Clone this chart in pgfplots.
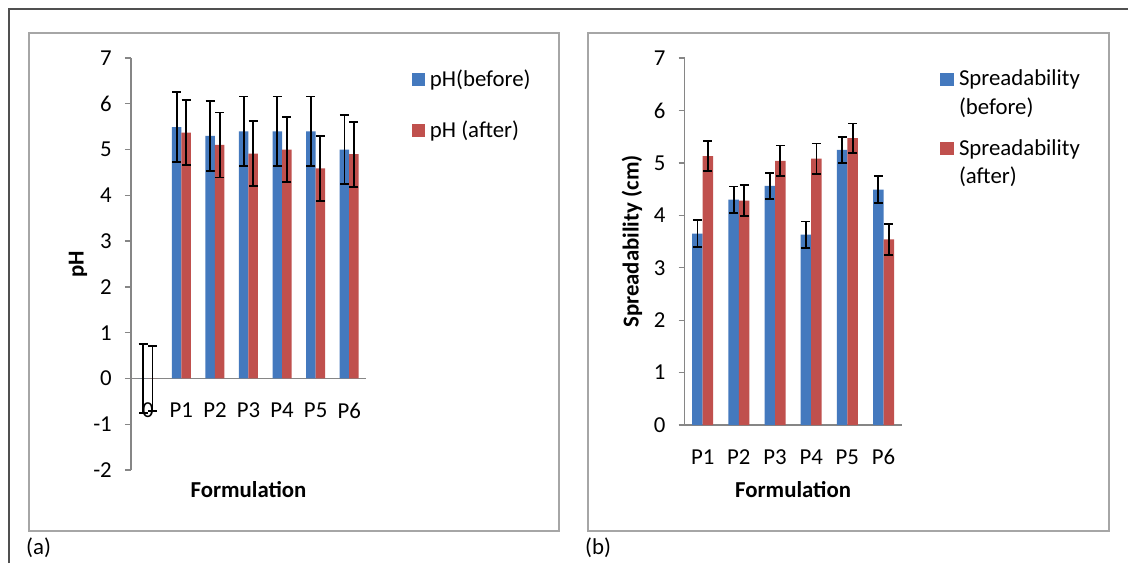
\documentclass[border=0pt]{standalone}
\usepackage{fontspec}
\setmainfont{Carlito}[BoldFont={Carlito Bold}]
\usepackage{pgfplots}
\usepackage{pgfplotstable}
\pgfplotsset{compat=1.18}

\definecolor{barblue}{HTML}{4479BE}
\definecolor{barred}{HTML}{C0504D}
\definecolor{axgray}{HTML}{868686}
\definecolor{boxgray}{HTML}{A6A6A6}
\definecolor{framegray}{HTML}{505050}
\newcommand{\chartfont}{\fontsize{22.8}{28.5}\selectfont}

\pgfplotstableread{
x  b     eb    a     ea
0  0     0.76  0     0.71
1  5.49  0.76  5.37  0.71
2  5.30  0.76  5.10  0.71
3  5.40  0.76  4.91  0.71
4  5.40  0.76  5.00  0.71
5  5.40  0.76  4.59  0.71
6  5.00  0.76  4.90  0.71
}\phdata

\pgfplotstableread{
x  b     eb    a     ea
0  3.65  0.26  5.13  0.29
1  4.30  0.25  4.28  0.30
2  4.56  0.25  5.04  0.29
3  3.63  0.25  5.08  0.29
4  5.25  0.25  5.47  0.28
5  4.49  0.26  3.54  0.29
}\spdata

\pgfplotsset{
  panel/.style={
    scale only axis, anchor=south west,
    ybar=0pt,
    axis x line=middle, axis y line=left,
    axis line style={-, draw=axgray, line width=1.3pt},
    hide obscured x ticks=false, hide obscured y ticks=false,
    x tick style={draw=none},
    y tick style={draw=axgray, line width=1.3pt},
    major tick length=6pt, ytick align=outside,
    tick label style={font=\chartfont, text=black},
    yticklabel style={anchor=east, inner sep=0pt, xshift=-13pt},
    xticklabel style={anchor=center, inner sep=0pt, yshift=-29pt},
    legend style={draw=none, fill=none, inner sep=0pt, outer sep=0pt,
      anchor=north west, column sep=5pt,
      nodes={inner sep=0pt, align=left, font=\chartfont}},
    legend cell align=left,
    enlargelimits=false,
  },
  errs/.style={error bars/.cd, y dir=both, y explicit,
      error bar style={draw=black, line width=1.8pt},
      error mark options={rotate=90, draw=black, line width=1.8pt, mark size=4.5pt}},
}

\begin{document}
\begin{tikzpicture}[font=\chartfont]
\useasboundingbox (0,0) rectangle (1128pt,-563pt);
\fill[white] (0,0) rectangle (1128pt,-563pt);
% outer frame
\draw[framegray, line width=2.5pt] (9pt,-563pt) -- (9pt,-9pt) -- (1128pt,-9pt);
% panel boxes
\draw[boxgray, line width=1.5pt] (29pt,-33pt) rectangle (559pt,-531pt);
\draw[boxgray, line width=1.5pt] (588pt,-33pt) rectangle (1109pt,-531pt);
\node[anchor=west, inner sep=0pt] at (26pt,-548pt) {(a)};
\node[anchor=west, inner sep=0pt] at (585pt,-548pt) {(b)};

% ---- panel (a)
\begin{axis}[panel,
  at={(131pt,-470pt)}, width=235pt, height=412pt,
  xmin=-0.5, xmax=6.5, ymin=-2, ymax=7,
  bar width=9.5pt,
  xtick={0,1,2,3,4,5,6}, xticklabels={0,P1,P2,P3,P4,P5,P6},
  ytick={-2,-1,0,1,2,3,4,5,6,7}, yticklabels={-2,-1,0,1,2,3,4,5,6,7},
  xlabel={Formulation}, ylabel={pH},
  every axis x label/.style={at={(axis description cs:0.5,-0.0485)}, anchor=center, font=\chartfont\bfseries},
  every axis y label/.style={at={(axis description cs:-0.2255,0.5)}, rotate=90, anchor=center, font=\chartfont\bfseries},
  legend image code/.code={\path[#1, draw=none, fill] (0pt,-7pt) rectangle (13pt,6pt);},
  legend style={at={(axis description cs:1.1957,0.971)}, row sep=33pt},
]
\addplot[fill=barblue, draw=none, errs] table[x=x, y=b, y error=eb] {\phdata};
\addlegendentry{pH(before)}
\addplot[fill=barred, draw=none, errs] table[x=x, y=a, y error=ea] {\phdata};
\addlegendentry{pH (after)}
\end{axis}

% ---- panel (b)
\begin{axis}[panel,
  at={(684.6pt,-425pt)}, width=217pt, height=367pt,
  xmin=-0.5, xmax=5.5, ymin=0, ymax=7,
  bar width=10.5pt,
  xtick={0,1,2,3,4,5}, xticklabels={P1,P2,P3,P4,P5,P6},
  ytick={0,1,2,3,4,5,6,7}, yticklabels={0,1,2,3,4,5,6,7},
  xlabel={Formulation}, ylabel={Spreadability (cm)},
  every axis x label/.style={at={(axis description cs:0.5,-0.177)}, anchor=center, font=\chartfont\bfseries},
  every axis y label/.style={at={(axis description cs:-0.2424,0.5)}, rotate=90, anchor=center, font=\chartfont\bfseries},
  legend image code/.code={\path[#1, draw=none, fill] (0pt,7.5pt) rectangle (14pt,20.5pt);},
  legend style={at={(axis description cs:1.177,0.967)}, row sep=23.5pt},
]
\addplot[fill=barblue, draw=none, errs] table[x=x, y=b, y error=eb] {\spdata};
\addlegendentry{Spreadability\\(before)}
\addplot[fill=barred, draw=none, errs] table[x=x, y=a, y error=ea] {\spdata};
\addlegendentry{Spreadability\\(after)}
\end{axis}
\end{tikzpicture}
\end{document}
